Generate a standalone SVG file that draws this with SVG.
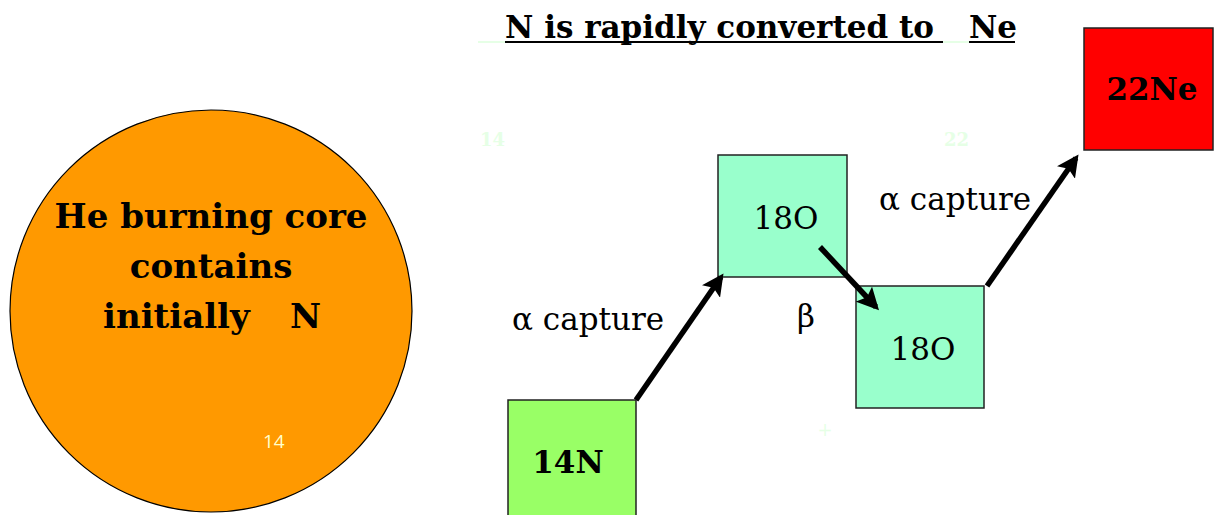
<svg xmlns="http://www.w3.org/2000/svg" width="1214" height="515" viewBox="0 0 1214 515">
<style>
text{font-family:"DejaVu Serif","Liberation Serif",serif;fill:#000}
.b{font-weight:bold}
.box{stroke:#222;stroke-width:1.5}
.lbl{font-size:31px}
.pale{fill:#e6ffe6;font-weight:bold;font-size:18px}
.conn{stroke:#000;stroke-width:5.5;fill:none;marker-end:url(#ah)}
</style>
<defs>
<marker id="ah" viewBox="0 0 10 10" refX="8" refY="5" markerWidth="4" markerHeight="4" orient="auto" markerUnits="strokeWidth">
<path d="M0,0 L10,5 L0,10 L2,5 z" fill="#000"/>
</marker>
</defs>
<rect width="1214" height="515" fill="#fff"/>
<g id="title">
<text class="b" x="505" y="38" font-size="31">N is rapidly converted to</text>
<text class="b" x="969" y="38" font-size="31">Ne</text>
<line x1="505" y1="42" x2="943" y2="42" stroke="#000" stroke-width="2"/>
<line x1="969" y1="42" x2="1015" y2="42" stroke="#000" stroke-width="2"/>
<line x1="478" y1="42" x2="505" y2="42" stroke="#e6ffe6" stroke-width="2"/>
<line x1="943" y1="42" x2="969" y2="42" stroke="#e6ffe6" stroke-width="2"/>
<text class="pale" x="480" y="146">14</text>
<text class="pale" x="944" y="146">22</text>
<text x="825" y="436" font-size="18" text-anchor="middle" style="fill:#e6ffe6">+</text>
</g>
<g id="core">
<circle cx="211" cy="311" r="201" fill="#ff9900" stroke="#000" stroke-width="1.2"/>
<text class="b" x="211" y="228" font-size="34" text-anchor="middle">He burning core</text>
<text class="b" x="211" y="278" font-size="34" text-anchor="middle">contains</text>
<text class="b" y="328" font-size="34"><tspan x="103">initially</tspan><tspan x="290">N</tspan></text>
<text x="263" y="448" font-size="19" style="font-family:'Open Sans',sans-serif;fill:#ffffcc">14</text>
</g>
<g id="n14">
<rect class="box" x="508" y="400" width="128" height="120" fill="#99ff66"/>
<text class="b" x="568" y="473" font-size="31" text-anchor="middle">14N</text>
</g>
<g id="o18a">
<rect class="box" x="718" y="155" width="129" height="122" fill="#99ffcc"/>
<text x="786" y="229" font-size="31" text-anchor="middle">18O</text>
</g>
<g id="o18b">
<rect class="box" x="856" y="286" width="128" height="122" fill="#99ffcc"/>
<text x="923" y="360" font-size="31" text-anchor="middle">18O</text>
</g>
<g id="ne22">
<rect class="box" x="1084" y="28" width="129" height="122" fill="#ff0000"/>
<text class="b" x="1152" y="100" font-size="31" text-anchor="middle">22Ne</text>
</g>
<g id="connectors">
<line class="conn" x1="636" y1="400" x2="721" y2="277"/>
<line class="conn" x1="820" y1="247" x2="876" y2="307"/>
<line class="conn" x1="987" y1="286" x2="1076" y2="158"/>
<text class="lbl" x="512" y="330">α capture</text>
<text class="lbl" x="879" y="210">α capture</text>
<text class="lbl" x="797" y="327">β</text>
</g>
</svg>
